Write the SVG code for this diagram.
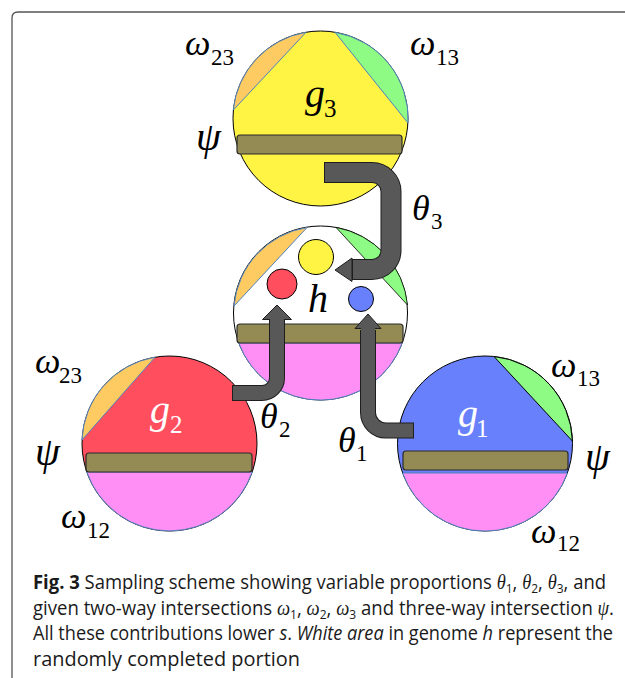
<svg xmlns="http://www.w3.org/2000/svg" width="625" height="678" viewBox="0 0 625 678">
<style>
.ring{stroke:#000;stroke-width:1}
.seg{stroke:#4F81BD;stroke-width:1}
.bar{fill:#948A54;stroke:#2b2b2b;stroke-width:1.2}
.m{font-family:"Liberation Serif","Times New Roman",serif;font-style:italic;fill:#000}
.big{font-size:36px}
.psi{font-size:40px}
.sub{font-size:23px;font-style:normal}
.gl{font-size:40px}
.gs{font-size:25px;font-style:normal}
.w{fill:#fff}
.cap{font-family:"Open Sans","Noto Sans",sans-serif;font-size:20px;fill:#1a1a1a}
.cm{font-family:"Liberation Serif","Times New Roman",serif;font-style:italic}
.cs{font-family:"Open Sans","Noto Sans",sans-serif;font-size:13px;font-style:normal}
.ao{fill:none;stroke:#1e1e1e}
.ai{fill:none;stroke:#585858}
.ah{fill:#585858;stroke:#1e1e1e;stroke-width:1}
</style>

<path id="frame" d="M12 678 V18 Q12 12 18 12 H625" fill="none" stroke="#555" stroke-width="1.3"/>

<g id="node-g3">
  <circle cx="320.5" cy="118.5" r="87.5" fill="#FFF444" class="ring"/>
  <path d="M233.3 110 A87.5 87.5 0 0 1 306 32.3 Z" fill="#FECB63" class="seg"/>
  <path d="M335 32.3 A87.5 87.5 0 0 1 408 123 Z" fill="#8DFB84" class="seg"/>
  <rect x="237" y="135" width="165" height="19" rx="3" class="bar"/>
  <text class="m gl" x="305" y="107">g</text>
  <text class="m gs" x="324" y="117">3</text>
</g>

<g id="node-h">
  <circle cx="320.5" cy="313" r="87" fill="#fff" class="ring"/>
  <path d="M234 306 A87 87 0 0 1 307 227.5 Z" fill="#FECB63" class="seg"/>
  <path d="M336 227.4 A87 87 0 0 1 407.5 305 Z" fill="#8DFB84" stroke="#000" stroke-width="0.8"/>
  <path d="M238.8 343 A87 87 0 0 0 402.2 343 Z" fill="#FF8FF5" class="seg"/>
  <rect x="237" y="324" width="166" height="19" rx="3" class="bar"/>
  <circle cx="316" cy="257" r="17.5" fill="#FFF444" class="ring"/>
  <circle cx="282" cy="284" r="15" fill="#FF4F5F" class="ring"/>
  <circle cx="361" cy="299" r="12.5" fill="#6880FC" class="ring"/>
  <text class="m gl" x="308" y="312">h</text>
</g>

<g id="node-g2">
  <circle cx="169.5" cy="443.5" r="87.5" fill="#FF4F5F" class="ring"/>
  <path d="M82 440 A87.5 87.5 0 0 1 155 357.2 Z" fill="#FECB63" class="seg"/>
  <path d="M86.8 472 A87.5 87.5 0 0 0 252.2 472 Z" fill="#FF8FF5" class="seg"/>
  <rect x="86" y="453" width="166" height="19" rx="3" class="bar"/>
  <text class="m gl w" x="150" y="423">g</text>
  <text class="m gs w" x="170" y="433">2</text>
</g>

<g id="node-g1">
  <circle cx="485" cy="443.5" r="87.5" fill="#6880FC" class="ring"/>
  <path d="M494 356.5 A87.5 87.5 0 0 1 572.4 441 Z" fill="#8DFB84" stroke="#000" stroke-width="1"/>
  <path d="M402.6 473 A87.5 87.5 0 0 0 567.4 473 Z" fill="#FF8FF5" class="seg"/>
  <rect x="403" y="451" width="165" height="19" rx="3" class="bar"/>
  <text class="m gl w" x="458" y="427">g</text>
  <text class="m gs w" x="476" y="437">1</text>
</g>

<g id="connectors">
  <g id="arrow-theta3">
    <path class="ao" stroke-width="21" d="M324 172.5 H372 A19 19 0 0 1 391 191.5 V250.5 A19 19 0 0 1 372 269.5 H350"/>
    <polygon class="ah" points="352,258 335,270 352,281.5"/>
    <path class="ai" stroke-width="19" d="M325 172.5 H372 A19 19 0 0 1 391 191.5 V250.5 A19 19 0 0 1 372 269.5 H353"/>
  </g>
  <g id="arrow-theta2">
    <path class="ao" stroke-width="16" d="M232 393 H262 A15 15 0 0 0 277 378 V320"/>
    <polygon class="ah" points="262.5,319.5 277,305 291.5,319.5"/>
    <path class="ai" stroke-width="14" d="M233 393 H262 A15 15 0 0 0 277 378 V318"/>
  </g>
  <g id="arrow-theta1">
    <path class="ao" stroke-width="16" d="M368 330 V412.5 A18 18 0 0 0 386 430.5 H414"/>
    <polygon class="ah" points="355,328.5 368,314 381,328.5"/>
    <path class="ai" stroke-width="14" d="M368 327 V412.5 A18 18 0 0 0 386 430.5 H413"/>
  </g>
</g>

<g id="labels">
  <text class="m big" x="185" y="55">ω</text><text class="m sub" x="211" y="65">23</text>
  <text class="m big" x="410" y="55">ω</text><text class="m sub" x="436" y="65">13</text>
  <text class="m psi" x="196" y="150">ψ</text>
  <text class="m big" x="412" y="220">θ</text><text class="m sub" x="431" y="229">3</text>
  <text class="m big" x="35" y="373">ω</text><text class="m sub" x="59" y="383">23</text>
  <text class="m psi" x="35" y="465">ψ</text>
  <text class="m big" x="61" y="528">ω</text><text class="m sub" x="87" y="538">12</text>
  <text class="m big" x="260" y="428">θ</text><text class="m sub" x="279" y="437">2</text>
  <text class="m big" x="338" y="452">θ</text><text class="m sub" x="356" y="461">1</text>
  <text class="m big" x="551" y="377">ω</text><text class="m sub" x="577" y="386">13</text>
  <text class="m psi" x="585" y="470">ψ</text>
  <text class="m big" x="531" y="543">ω</text><text class="m sub" x="557" y="551">12</text>
</g>

<g id="caption" class="cap">
  <text x="33" y="589" textLength="573" lengthAdjust="spacingAndGlyphs"><tspan font-weight="bold">Fig. 3</tspan> Sampling scheme showing variable proportions <tspan class="cm">θ</tspan><tspan class="cs" dy="4">1</tspan><tspan dy="-4">, </tspan><tspan class="cm">θ</tspan><tspan class="cs" dy="4">2</tspan><tspan dy="-4">, </tspan><tspan class="cm">θ</tspan><tspan class="cs" dy="4">3</tspan><tspan dy="-4">, and</tspan></text>
  <text x="33" y="614.5" textLength="581" lengthAdjust="spacingAndGlyphs">given two-way intersections <tspan class="cm">ω</tspan><tspan class="cs" dy="4">1</tspan><tspan dy="-4">, </tspan><tspan class="cm">ω</tspan><tspan class="cs" dy="4">2</tspan><tspan dy="-4">, </tspan><tspan class="cm">ω</tspan><tspan class="cs" dy="4">3</tspan><tspan dy="-4"> and three-way intersection </tspan><tspan class="cm">ψ</tspan>.</text>
  <text x="33" y="640" textLength="580" lengthAdjust="spacingAndGlyphs">All these contributions lower <tspan font-style="italic">s</tspan>. <tspan font-style="italic">White area</tspan> in genome <tspan font-style="italic">h</tspan> represent the</text>
  <text x="33" y="665.5" textLength="267" lengthAdjust="spacingAndGlyphs">randomly completed portion</text>
</g>
</svg>
